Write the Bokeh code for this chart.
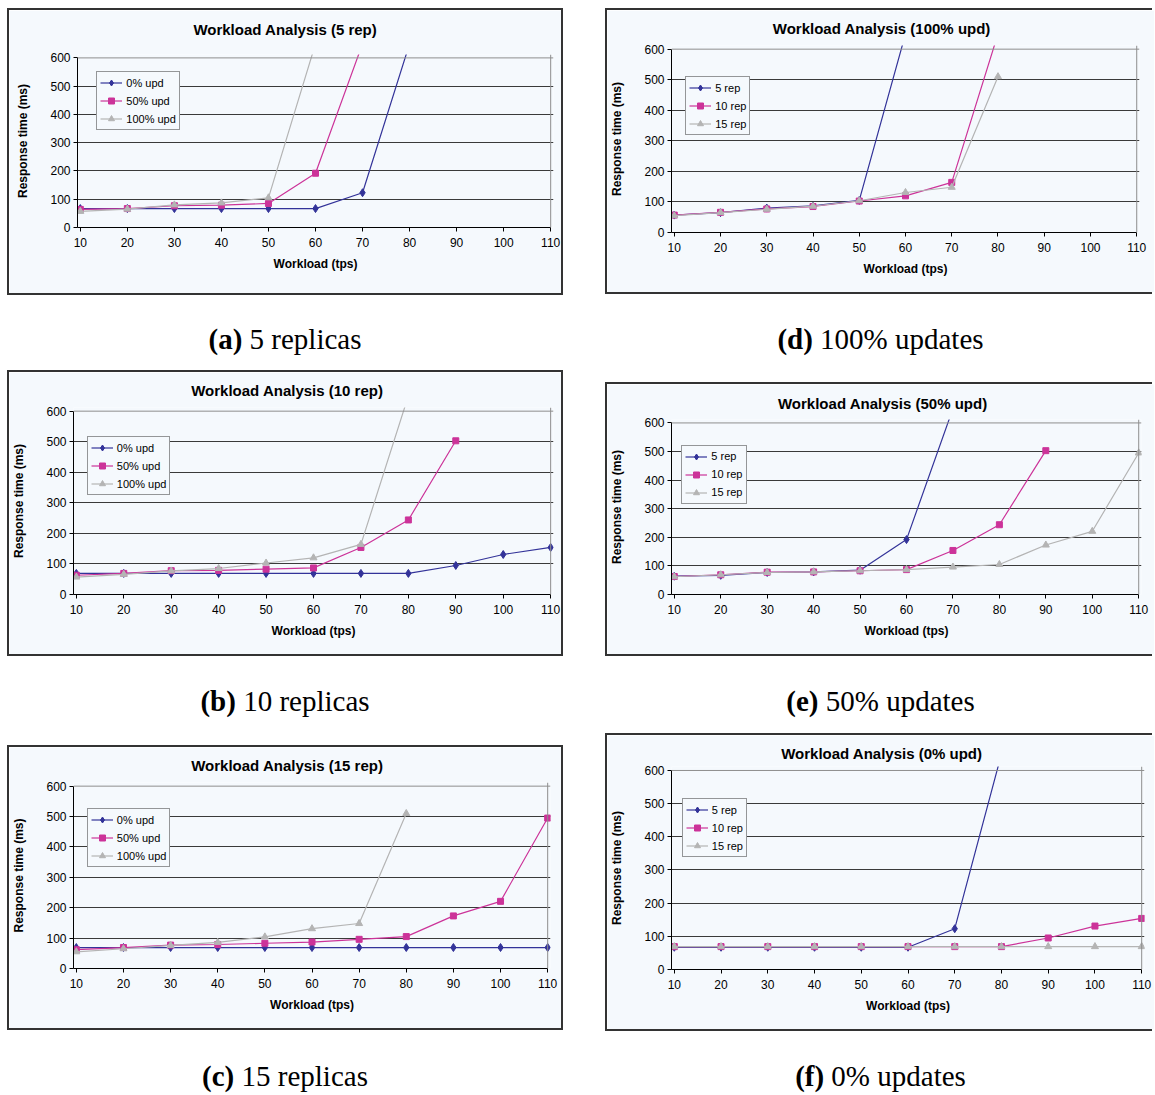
from bokeh.plotting import figure
from bokeh.models import (Range1d, FixedTicker, Legend, LegendItem, Span, Title,
                          Spacer, ColumnDataSource, Div)
from bokeh.layouts import row, column
from bokeh.embed import file_html
from bokeh.resources import INLINE

# ---------------- data ----------------
workload = [10, 20, 30, 40, 50, 60, 70, 80, 90, 100, 110]
response_ticks = [0, 100, 200, 300, 400, 500, 600]

# response time (ms) per number of replicas and update percentage
rep5_upd0 = [67, 67, 67, 67, 67, 67, 123, 650]
rep5_upd50 = [64, 67, 77, 79, 85, 192, 650]
rep5_upd100 = [57, 65, 80, 87, 105, 650]
rep10_upd0 = [69, 69, 69, 69, 69, 69, 69, 69, 95, 131, 154]
rep10_upd50 = [63, 69, 78, 79, 83, 87, 154, 244, 503]
rep10_upd100 = [57, 66, 77, 85, 103, 120, 164, 650]
rep15_upd0 = [69, 69, 69, 69, 69, 69, 69, 69, 69, 69, 69]
rep15_upd50 = [62, 69, 77, 79, 83, 87, 96, 105, 173, 221, 495]
rep15_upd100 = [55, 65, 76, 86, 104, 131, 148, 510]

update_labels = ["0% upd", "50% upd", "100% upd"]
replica_labels = ["5 rep", "10 rep", "15 rep"]

titles = ["Workload Analysis (5 rep)", "Workload Analysis (10 rep)", "Workload Analysis (15 rep)",
          "Workload Analysis (100% upd)", "Workload Analysis (50% upd)", "Workload Analysis (0% upd)"]
caption_tags = ["(a)", "(b)", "(c)", "(d)", "(e)", "(f)"]
caption_texts = ["5 replicas", "10 replicas", "15 replicas", "100% updates", "50% updates", "0% updates"]

panel_series = [
    [rep5_upd0, rep5_upd50, rep5_upd100],
    [rep10_upd0, rep10_upd50, rep10_upd100],
    [rep15_upd0, rep15_upd50, rep15_upd100],
    [rep5_upd100, rep10_upd100, rep15_upd100],
    [rep5_upd50, rep10_upd50, rep15_upd50],
    [rep5_upd0, rep10_upd0, rep15_upd0],
]
panel_labels = [update_labels, update_labels, update_labels,
                replica_labels, replica_labels, replica_labels]

# ---------------- styling / layout ----------------
BG = "#f5f9fd"
GRID = "#3a3a3a"
FRAME_GRAY = "#8e8e8e"
SERIES_STYLE = [("#333399", "diamond", 8), ("#cc3399", "square", 6), ("#b4b4b4", "triangle", 7)]
XPAD = 0.6
YTOP = 612
LEG_H = 57
CAP_SIZE = 29
LEFT_W = 552
RIGHT_W = 547
H_T = 17  # approx. height of the 15px bold title text box

# page-pixel geometry of each chart: box interior (L, T, W, H),
# axes (x=10 px, x=110 px, y=0 px, y=600 px), legend top-left, title centre below box top
geoms = [
    dict(box=(9, 10, LEFT_W, 283), axes=(79.5, 550.5, 226.7, 57.3), legend=(96, 73), title_c=18),
    dict(box=(9, 372, LEFT_W, 282), axes=(74, 550, 593.7, 410.7), legend=(85, 437.7), title_c=18),
    dict(box=(9, 747, LEFT_W, 281), axes=(74, 547, 968, 785.5), legend=(85, 810), title_c=17),
    dict(box=(607, 10, RIGHT_W, 282), axes=(672.6, 1136.5, 231.7, 49), legend=(684, 77.7), title_c=18),
    dict(box=(607, 384, RIGHT_W, 270), axes=(671.5, 1138, 594.5, 422.5), legend=(679, 447), title_c=19),
    dict(box=(607, 735, RIGHT_W, 294), axes=(673, 1141, 969, 770), legend=(681, 800), title_c=17.5),
]

ARIAL_B = {'W': 944, 'o': 611, 'r': 389, 'k': 556, 'l': 278, 'a': 556, 'd': 611, ' ': 278,
           'A': 722, 'n': 611, 'y': 556, 's': 556, 'i': 278, '(': 333, ')': 333, '%': 889,
           'e': 556, 'p': 611, 'u': 611}


def text_width(s, table, size):
    return sum(table.get(ch, 556) for ch in s) / 1000.0 * size


def make_chart(title, series, labels, geom, right_col):
    L, T, W, H = geom["box"]
    x10, x110, y0, y600 = geom["axes"]
    ppx = (x110 - x10) / 100.0
    ppy = (y0 - y600) / 600.0
    fl = x10 - XPAD * ppx
    fr = x110 + XPAD * ppx
    ft = y0 - YTOP * ppy
    mbl = int(round(fl - L))
    mbr = int(round(L + W - fr))
    mbt = int(round(ft - T))
    mbb = int(round(T + H - y0))
    shadow = ("-2px -2px 0 0 #333333, -2px 2px 0 0 #333333" if right_col
              else "0 0 0 2px #333333")
    p = figure(width=W, height=H, x_range=Range1d(10 - XPAD, 110 + XPAD),
               y_range=Range1d(0, YTOP), output_backend="svg", toolbar_location=None,
               min_border_left=mbl, min_border_right=mbr, min_border_top=mbt,
               min_border_bottom=mbb, background_fill_color=BG, border_fill_color=BG,
               outline_line_color=None, styles={"box-shadow": shadow})

    # title placement (centred on the whole chart box, like the spreadsheet chart)
    c = geom["title_c"]
    if 2 * (mbt - c) <= mbt:
        standoff = int(round(2 * (mbt - c) - 2 - H_T))
        gap = 0
    else:
        standoff = int(round(2 * c - 2 - H_T))
        gap = int(round(mbt - 2 * c))
        if gap < 4:
            standoff = mbt - 2 - H_T
            gap = 0
    if gap >= 4:
        # blank spacer between the plot area and the title (nearest the plot area)
        p.add_layout(Title(text=" ", text_font_size="2px", text_color=BG,
                           standoff=gap - 5), "above")
    tw = text_width(title, ARIAL_B, 15)
    p.add_layout(Title(text=title, align="left", offset=(W / 2.0 - mbl) - tw / 2.0,
                       vertical_align="middle", standoff=max(standoff, 0),
                       text_font="Liberation Sans", text_font_style="bold",
                       text_font_size="15px", text_color="black"), "above")

    xa = p.xaxis[0]
    ya = p.yaxis[0]
    xa.ticker = FixedTicker(ticks=workload)
    ya.ticker = FixedTicker(ticks=response_ticks)
    xa.bounds = (10 - XPAD, 110)
    ya.bounds = (0, 600)
    for ax in (xa, ya):
        ax.axis_line_color = "black"
        ax.axis_line_width = 1
        ax.major_tick_line_color = "black"
        ax.minor_tick_line_color = None
        ax.major_tick_out = 4
        ax.major_tick_in = 0
        ax.major_label_text_font = "Liberation Sans"
        ax.major_label_text_font_size = "12px"
        ax.major_label_text_color = "black"
        ax.axis_label_text_font = "Liberation Sans"
        ax.axis_label_text_font_style = "bold"
        ax.axis_label_text_font_size = "12px"
        ax.axis_label_text_color = "black"
    xa.axis_label = "Workload (tps)"
    ya.axis_label = "Response time (ms)"
    xa.major_label_standoff = 6
    xa.axis_label_standoff = 7
    ya.major_label_standoff = 3
    ya.axis_label_standoff = 17

    p.xgrid.visible = False
    p.ygrid.ticker = FixedTicker(ticks=response_ticks[1:-1])
    p.ygrid.grid_line_color = GRID
    p.ygrid.grid_line_width = 1

    p.add_layout(Span(location=600, dimension="width", line_color=FRAME_GRAY, line_width=1))
    p.add_layout(Span(location=110, dimension="height", line_color=FRAME_GRAY, line_width=1))

    items = []
    for vals, lab, (col, mk, sz) in zip(series, labels, SERIES_STYLE):
        src = ColumnDataSource(dict(x=workload[:len(vals)], y=vals))
        lr = p.line("x", "y", source=src, line_color=col, line_width=1.2)
        sr = p.scatter("x", "y", source=src, marker=mk, size=sz,
                       fill_color=col, line_color=col)
        items.append(LegendItem(label=lab, renderers=[lr, sr]))

    lx, ly = geom["legend"]
    leg = Legend(items=items, location=(lx - fl, y0 - (ly + LEG_H)),
                 label_text_font="Liberation Sans", label_text_font_size="11px",
                 label_text_color="black", glyph_width=22, glyph_height=15,
                 label_height=15, spacing=3, padding=3, margin=0, label_standoff=4,
                 border_line_color="#333333", border_line_width=1.5,
                 background_fill_color=BG, background_fill_alpha=1.0)
    p.add_layout(leg)
    return column(p, spacing=0)


def make_caption(tag, text, W, H, baseline):
    # line-height chosen so that the text baseline sits `baseline` px below the top
    lh = 2 * (baseline - 0.891 * CAP_SIZE) + 1.107 * CAP_SIZE
    return Div(text=f"<b>{tag}</b> {text}", width=W, height=H,
               styles={"font-family": "'Liberation Serif', serif",
                       "font-size": f"{CAP_SIZE}px", "line-height": f"{lh:.1f}px",
                       "text-align": "center", "color": "black", "white-space": "nowrap",
                       "margin": "0", "padding": "0"})


charts = [make_chart(titles[i], panel_series[i], panel_labels[i], geoms[i], i >= 3)
          for i in range(6)]

# caption strips: (height, baseline below strip top)
left_caps = [(79, 56), (93, 57), (66, 58)]
right_caps = [(92, 57), (81, 57), (65, 57)]

caps = []
for i in range(6):
    W = LEFT_W if i < 3 else RIGHT_W
    h, b = (left_caps if i < 3 else right_caps)[i % 3]
    caps.append(make_caption(caption_tags[i], caption_texts[i], W, h, b))

left_col = column(Spacer(width=LEFT_W, height=10), charts[0], caps[0], charts[1], caps[1],
                  charts[2], caps[2], spacing=0)
right_col = column(Spacer(width=RIGHT_W, height=10), charts[3], caps[3], charts[4], caps[4],
                   charts[5], caps[5], spacing=0)
layout = row(Spacer(width=9, height=10), left_col, Spacer(width=46, height=10), right_col,
             spacing=0)

open("out.html", "w").write(file_html(layout, INLINE))
